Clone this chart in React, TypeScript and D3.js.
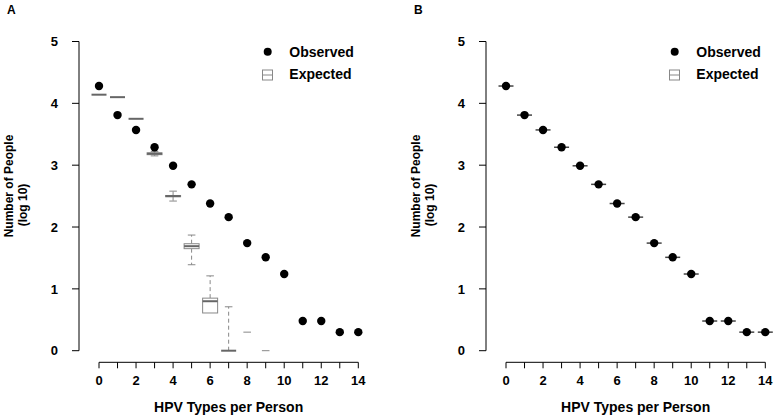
import React from "react";
import * as d3 from "d3";

const xs = d3.range(0, 15);
const observed = [4.28, 3.81, 3.57, 3.29, 2.99, 2.69, 2.38, 2.16, 1.74, 1.51, 1.24, 0.48, 0.48, 0.30, 0.30];

// Expected boxplots (panel A), one per x = 0..7
const expX = [0, 1, 2, 3, 4, 5, 6, 7];
const expMin = [4.14, 4.10, 3.75, 3.15, 2.42, 1.39, 0.61, 0.0];
const expQ1 = [4.14, 4.10, 3.75, 3.17, 2.49, 1.65, 0.61, 0.0];
const expMed = [4.14, 4.10, 3.75, 3.185, 2.50, 1.69, 0.80, 0.0];
const expQ3 = [4.14, 4.10, 3.75, 3.20, 2.51, 1.73, 0.85, 0.0];
const expMax = [4.14, 4.10, 3.75, 3.22, 2.58, 1.87, 1.21, 0.71];
// extra expected marks drawn as short dashes
const outX = [8, 9];
const outV = [0.30, 0.0];

const yTicks = [0, 1, 2, 3, 4, 5];
const xTickLabels = [0, 2, 4, 6, 8, 10, 12, 14];
const panelLabels = ["A", "B"];
const legendLabels = ["Observed", "Expected"];

const FONT = "'Liberation Sans', Arial, Helvetica, sans-serif";

function Panel({ offset, label, showExpected }: { offset: number; label: string; showExpected: boolean }) {
  const x = d3.scaleLinear().domain([0, 14]).range([99 + offset, 358.3 + offset]);
  const y = d3.scaleLinear().domain([0, 5]).range([350.7, 41.5]);
  const axisX = 79 + offset;
  const axisY = 362.3;
  const bw = 7.5;
  const cw = 3.8;
  return (
    <g>
      <text x={7 + offset} y={14} fontFamily={FONT} fontWeight="bold" fontSize={12}>{label}</text>
      {/* y axis */}
      <line x1={axisX} x2={axisX} y1={y(0)} y2={y(5)} stroke="#000" strokeWidth={1} />
      {yTicks.map((t) => (
        <g key={t}>
          <line x1={axisX - 7} x2={axisX} y1={y(t)} y2={y(t)} stroke="#000" />
          <text x={axisX - 21} y={y(t)} dy="0.36em" textAnchor="end" fontFamily={FONT} fontWeight="bold" fontSize={13}>{t}</text>
        </g>
      ))}
      {/* x axis */}
      <line x1={x(0)} x2={x(14)} y1={axisY} y2={axisY} stroke="#000" />
      {xs.map((t) => (
        <line key={t} x1={x(t)} x2={x(t)} y1={axisY} y2={axisY + 6} stroke="#000" />
      ))}
      {xTickLabels.map((t) => (
        <text key={t} x={x(t)} y={385} textAnchor="middle" fontFamily={FONT} fontWeight="bold" fontSize={13}>{t}</text>
      ))}
      <text x={(x(0) + x(14)) / 2} y={411.5} textAnchor="middle" fontFamily={FONT} fontWeight="bold" fontSize={14}>HPV Types per Person</text>
      {/* y label */}
      <text transform={`translate(${13 + offset},186) rotate(-90)`} textAnchor="middle" fontFamily={FONT} fontWeight="bold" fontSize={12}>Number of People</text>
      <text transform={`translate(${27 + offset},205) rotate(-90)`} textAnchor="middle" fontFamily={FONT} fontWeight="bold" fontSize={12}>(log 10)</text>

      {/* expected boxplots */}
      {showExpected && expX.map((xv, i) => {
        const cx = x(xv);
        return (
          <g key={xv}>
            {expMax[i] > expQ3[i] && (
              <line x1={cx} x2={cx} y1={y(expQ3[i])} y2={y(expMax[i])} stroke="#888" strokeDasharray="4,3" />
            )}
            {expMin[i] < expQ1[i] && (
              <line x1={cx} x2={cx} y1={y(expQ1[i])} y2={y(expMin[i])} stroke="#888" strokeDasharray="4,3" />
            )}
            {expMax[i] > expQ3[i] && (
              <line x1={cx - cw} x2={cx + cw} y1={y(expMax[i])} y2={y(expMax[i])} stroke="#888" />
            )}
            {expMin[i] < expQ1[i] && (
              <line x1={cx - cw} x2={cx + cw} y1={y(expMin[i])} y2={y(expMin[i])} stroke="#888" />
            )}
            <rect x={cx - bw} width={bw * 2} y={y(expQ3[i])} height={Math.max(0, y(expQ1[i]) - y(expQ3[i]))} fill="white" stroke="#888" />
            <line x1={cx - bw} x2={cx + bw} y1={y(expMed[i])} y2={y(expMed[i])} stroke="#666" strokeWidth={2} />
          </g>
        );
      })}
      {showExpected && outX.map((xv, i) => (
        <line key={xv} x1={x(xv) - cw} x2={x(xv) + cw} y1={y(outV[i])} y2={y(outV[i])} stroke="#888" />
      ))}

      {/* panel B: collapsed expected at observed */}
      {!showExpected && xs.map((xv, i) => (
        <line key={xv} x1={x(xv) - bw} x2={x(xv) + bw} y1={y(observed[i])} y2={y(observed[i])} stroke="#444" strokeWidth={1.5} />
      ))}

      {/* observed */}
      {xs.map((xv, i) => (
        <circle key={xv} cx={x(xv)} cy={y(observed[i])} r={4.2} fill="#000" />
      ))}

      {/* legend */}
      <circle cx={267.7 + offset} cy={51.7} r={4} fill="#000" />
      <text x={289.3 + offset} y={56.5} fontFamily={FONT} fontWeight="bold" fontSize={14}>{legendLabels[0]}</text>
      <rect x={262.5 + offset} y={70} width={10} height={10} fill="white" stroke="#888" />
      <line x1={262.5 + offset} x2={272.5 + offset} y1={75} y2={75} stroke="#888" />
      <text x={289.3 + offset} y={79} fontFamily={FONT} fontWeight="bold" fontSize={14}>{legendLabels[1]}</text>
    </g>
  );
}

export default function App() {
  return (
    <svg width={777} height={419} style={{ position: "absolute", left: 0, top: 0, background: "#fff" }}>
      <rect width={777} height={419} fill="#fff" />
      <Panel offset={0} label={panelLabels[0]} showExpected={true} />
      <Panel offset={407} label={panelLabels[1]} showExpected={false} />
    </svg>
  );
}
